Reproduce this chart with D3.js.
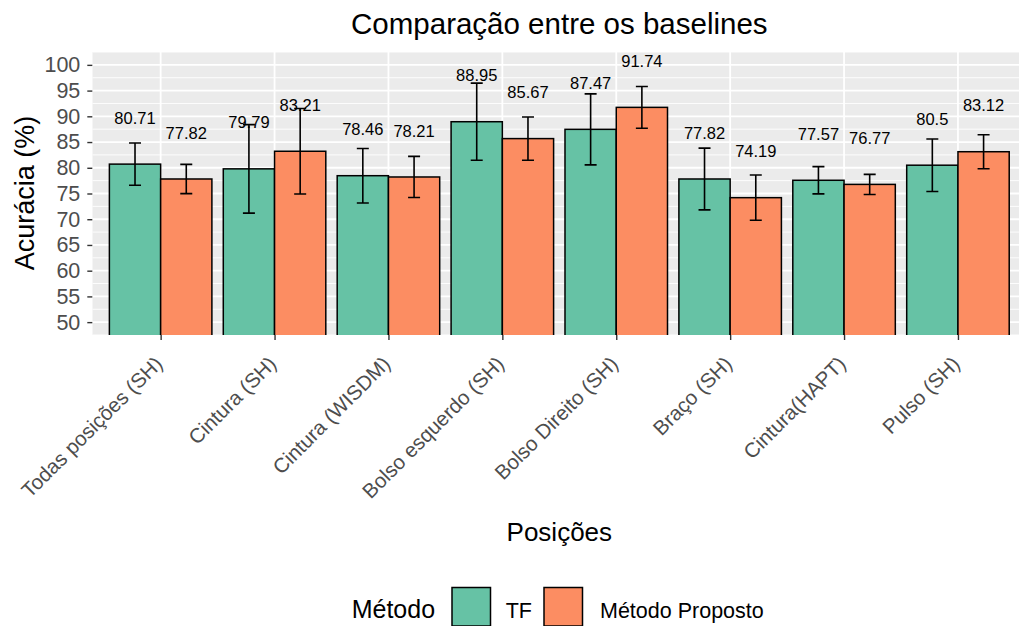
<!DOCTYPE html>
<html>
<head>
<meta charset="utf-8">
<script src="https://cdn.jsdelivr.net/npm/d3@7"></script>
<style>
  body { margin: 0; background: #fff; }
  svg { display: block; font-family: "Liberation Sans", Arial, sans-serif; }
</style>
</head>
<body>
<svg id="chart" width="1019" height="626"></svg>
<script>
// data
const categories = ["Todas posições (SH)", "Cintura (SH)", "Cintura (WISDM)", "Bolso esquerdo (SH)",
  "Bolso Direito (SH)", "Braço (SH)", "Cintura(HAPT)", "Pulso (SH)"];
const methods = ["TF", "Método Proposto"];
const tfValues = [80.71, 79.79, 78.46, 88.95, 87.47, 77.82, 77.57, 80.5];
const tfSd = [4.1, 8.6, 5.3, 7.5, 6.9, 6.0, 2.65, 5.1];
const propValues = [77.82, 83.21, 78.21, 85.67, 91.74, 74.19, 76.77, 83.12];
const propSd = [2.85, 8.3, 4.0, 4.2, 4.05, 4.4, 1.95, 3.3];
const yTicks = [50, 55, 60, 65, 70, 75, 80, 85, 90, 95, 100];
const yMinor = [47.5, 52.5, 57.5, 62.5, 67.5, 72.5, 77.5, 82.5, 87.5, 92.5, 97.5, 102.5];
const colors = ["#66C2A5", "#FC8D62"];

const rows = [];
categories.forEach((c, i) => {
  rows.push({ cat: c, m: 0, v: tfValues[i], sd: tfSd[i] });
  rows.push({ cat: c, m: 1, v: propValues[i], sd: propSd[i] });
});

const svg = d3.select("#chart");
const panel = { left: 92.3, right: 1026.3, top: 52, bottom: 335 };

// discrete axis: 0.6 unit expansion each side, like ggplot
const step = (panel.right - panel.left) / (categories.length - 1 + 1.2);
const x = d3.scalePoint().domain(categories)
  .range([panel.left + 0.6 * step, panel.right - 0.6 * step]);
const dodge = d3.scaleBand().domain([0, 1]).range([-0.45 * step, 0.45 * step]).padding(0);
const y = d3.scaleLinear().domain([47.5, 102.5]).range([panel.bottom, panel.top]);

svg.append("defs").append("clipPath").attr("id", "clip")
  .append("rect")
  .attr("x", panel.left).attr("y", panel.top)
  .attr("width", panel.right - panel.left).attr("height", panel.bottom - panel.top);

const g = svg.append("g").attr("clip-path", "url(#clip)");

g.append("rect")
  .attr("x", panel.left).attr("y", panel.top)
  .attr("width", panel.right - panel.left).attr("height", panel.bottom - panel.top)
  .attr("fill", "#EBEBEB");

g.selectAll(".minor").data(yMinor).enter().append("line")
  .attr("x1", panel.left).attr("x2", panel.right)
  .attr("y1", (d) => y(d)).attr("y2", (d) => y(d))
  .attr("stroke", "#fff").attr("stroke-width", 0.9);

g.selectAll(".major").data(yTicks).enter().append("line")
  .attr("x1", panel.left).attr("x2", panel.right)
  .attr("y1", (d) => y(d)).attr("y2", (d) => y(d))
  .attr("stroke", "#fff").attr("stroke-width", 1.8);

g.selectAll(".vgrid").data(categories).enter().append("line")
  .attr("x1", (d) => x(d)).attr("x2", (d) => x(d))
  .attr("y1", panel.top).attr("y2", panel.bottom)
  .attr("stroke", "#fff").attr("stroke-width", 1.8);

// bars (start at 0, clipped to the panel)
g.selectAll(".bar").data(rows).enter().append("rect")
  .attr("x", (d) => x(d.cat) + dodge(d.m))
  .attr("width", dodge.bandwidth())
  .attr("y", (d) => y(d.v))
  .attr("height", (d) => y(0) - y(d.v))
  .attr("fill", (d) => colors[d.m])
  .attr("stroke", "#000").attr("stroke-width", 1.5);

// value labels
g.selectAll(".lbl").data(rows).enter().append("text")
  .attr("x", (d) => x(d.cat) + dodge(d.m) + dodge.bandwidth() / 2)
  .attr("y", (d) => y(d.v + 9))
  .attr("dy", "0.36em")
  .attr("text-anchor", "middle")
  .attr("font-size", 16.5)
  .attr("fill", "#000")
  .text((d) => d.v);

// error bars
const cap = 6;
const eb = g.selectAll(".eb").data(rows).enter().append("g")
  .attr("stroke", "#000").attr("stroke-width", 1.6);
const cx = (d) => x(d.cat) + dodge(d.m) + dodge.bandwidth() / 2;
eb.append("line").attr("x1", cx).attr("x2", cx)
  .attr("y1", (d) => y(d.v - d.sd)).attr("y2", (d) => y(d.v + d.sd));
eb.append("line").attr("x1", (d) => cx(d) - cap).attr("x2", (d) => cx(d) + cap)
  .attr("y1", (d) => y(d.v + d.sd)).attr("y2", (d) => y(d.v + d.sd));
eb.append("line").attr("x1", (d) => cx(d) - cap).attr("x2", (d) => cx(d) + cap)
  .attr("y1", (d) => y(d.v - d.sd)).attr("y2", (d) => y(d.v - d.sd));

// y axis
const yAxis = svg.append("g")
  .attr("transform", `translate(${panel.left},0)`)
  .call(d3.axisLeft(y).tickValues(yTicks).tickSize(5).tickPadding(7));
yAxis.select(".domain").remove();
yAxis.selectAll(".tick line").attr("stroke", "#333").attr("stroke-width", 1.4);
yAxis.selectAll(".tick text")
  .attr("font-size", 21.5).attr("fill", "#4D4D4D")
  .attr("font-family", "Liberation Sans, Arial, sans-serif");

// x axis
const xAxis = svg.append("g")
  .attr("transform", `translate(0,${panel.bottom})`)
  .call(d3.axisBottom(x).tickSize(5).tickFormat(""));
xAxis.select(".domain").remove();
xAxis.selectAll(".tick line").attr("stroke", "#333").attr("stroke-width", 1.4);

svg.append("g").selectAll("text").data(categories).enter().append("text")
  .attr("transform", (d) => `translate(${x(d) - 2},${panel.bottom + 25}) rotate(-45)`)
  .attr("text-anchor", "end")
  .attr("dy", "0.35em")
  .attr("font-size", 20.5)
  .attr("fill", "#4D4D4D")
  .text((d) => d);

// titles
svg.append("text")
  .attr("x", (panel.left + panel.right) / 2).attr("y", 34)
  .attr("text-anchor", "middle").attr("font-size", 29.5).attr("fill", "#000")
  .text("Comparação entre os baselines");

svg.append("text")
  .attr("transform", "translate(34,193) rotate(-90)")
  .attr("text-anchor", "middle").attr("font-size", 27).attr("fill", "#000")
  .text("Acurácia (%)");

svg.append("text")
  .attr("x", (panel.left + panel.right) / 2).attr("y", 541)
  .attr("text-anchor", "middle").attr("font-size", 26).attr("fill", "#000")
  .text("Posições");

// legend
const legend = svg.append("g");
legend.append("text")
  .attr("x", 351.7).attr("y", 618)
  .attr("font-size", 25).attr("fill", "#000")
  .text("Método");
const keyX = [452, 544];
const labX = [505.7, 600];
methods.forEach((m, i) => {
  legend.append("rect")
    .attr("x", keyX[i]).attr("y", 587.5).attr("width", 38.5).attr("height", 38.5)
    .attr("fill", colors[i]).attr("stroke", "#000").attr("stroke-width", 1.5);
  legend.append("text")
    .attr("x", labX[i]).attr("y", 618)
    .attr("font-size", 21.5).attr("fill", "#000")
    .text(m);
});
</script>
</body>
</html>
